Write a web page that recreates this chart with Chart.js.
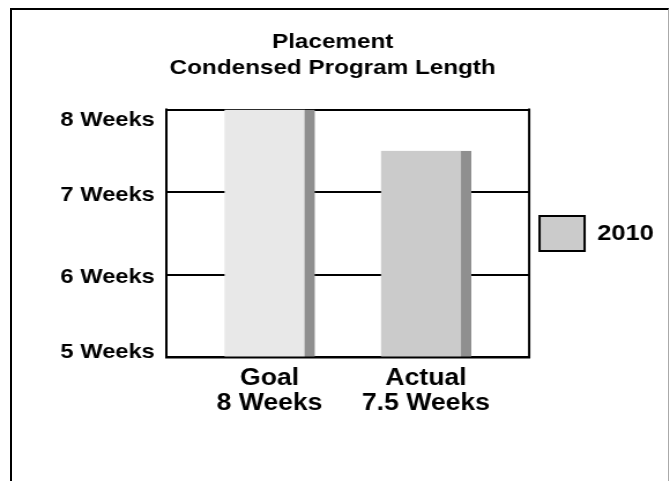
<!DOCTYPE html>
<html>
<head>
<meta charset="utf-8">
<title>Placement - Condensed Program Length</title>
<script src="https://cdn.jsdelivr.net/npm/chart.js@4.4.1/dist/chart.umd.min.js"></script>
<style>
  html, body { margin: 0; padding: 0; background: #fff; }
  body { width: 670px; height: 481px; overflow: hidden; position: relative; }
  /* page frame, open at the bottom */
  .frame {
    position: absolute; left: 10px; top: 8px; width: 656px; height: 600px;
    border-left: 2px solid #000; border-top: 2px solid #000; border-right: 1px solid #aaa;
  }
  /* the chart is laid out narrow and widened, like the original slide art */
  .stretch {
    position: absolute; left: 0; top: 0; width: 580px; height: 481px;
    transform: scaleX(1.1552); transform-origin: 0 0;
  }
  .stretch canvas { display: block; }
</style>
</head>
<body>
<div class="frame"></div>
<div class="stretch"><canvas id="lengthChart" width="580" height="481"></canvas></div>
<script>
const categories = ['Goal', 'Actual'];
const categoryNotes = ['8 Weeks', '7.5 Weeks'];
const seriesName = '2010';
const weeks2010 = [8, 7.5];
const yTicks = [5, 6, 7, 8];
const yTickLabels = ['5 Weeks', '6 Weeks', '7 Weeks', '8 Weeks'];

Chart.defaults.font.family = "'Liberation Sans', Arial, sans-serif";
Chart.defaults.color = '#000';

// left, bottom and right edges of the plot go over the bars
const plotFrame = {
    id: 'plotFrame',
    afterDatasetsDraw(chart) {
        const { ctx, chartArea: a } = chart;
        ctx.save();
        ctx.strokeStyle = '#000';
        ctx.lineWidth = 2;
        ctx.lineCap = 'square';
        ctx.beginPath();
        ctx.moveTo(a.left, a.top);
        ctx.lineTo(a.left, a.bottom);
        ctx.lineTo(a.right, a.bottom);
        ctx.lineTo(a.right, a.top);
        ctx.stroke();
        ctx.restore();
    }
};

// end labels sit a little inside the plot, like the original axis
function yLabel(v) {
    const text = yTickLabels[yTicks.indexOf(v)];
    if (v === yTicks[yTicks.length - 1]) return ['', text];
    if (v === yTicks[0]) return [text, ''];
    return text;
}

const ctx = document.getElementById('lengthChart').getContext('2d');
const lengthChart = new Chart(ctx, {
    type: 'bar',
    data: {
        datasets: [{
            label: seriesName,
            data: weeks2010.map((w, i) => ({ x: i, y: w })),
            backgroundColor: ['#e8e8e8', '#cbcbcb'],
            borderColor: '#8f8f8f',
            borderWidth: { top: 0, right: 9, bottom: 0, left: 0 },
            borderSkipped: false,
            barThickness: 78
        }]
    },
    options: {
        responsive: false,
        animation: false,
        layout: {
            padding: { left: 0, right: 4, top: 0, bottom: 56 }
        },
        plugins: {
            title: {
                display: true,
                text: ['Placement', 'Condensed Program Length'],
                font: { size: 21, weight: 'bold', lineHeight: 1.25 },
                color: '#000',
                padding: { top: 29, bottom: 28 }
            },
            legend: {
                position: 'right',
                fullSize: false,
                labels: {
                    boxWidth: 39,
                    boxHeight: 35,
                    padding: 9,
                    font: { size: 22, weight: 'bold' },
                    color: '#000',
                    generateLabels: () => [{
                        text: seriesName,
                        fillStyle: '#cbcbcb',
                        strokeStyle: '#000',
                        lineWidth: 2,
                        hidden: false,
                        datasetIndex: 0
                    }]
                }
            },
            tooltip: { enabled: false }
        },
        scales: {
            x: {
                type: 'linear',
                offset: false,
                min: -0.66,
                max: 1.66,
                afterBuildTicks: (scale) => {
                    scale.ticks = categories.map((c, i) => ({ value: i }));
                },
                ticks: {
                    callback: (v) => [categories[v], categoryNotes[v]],
                    autoSkip: false,
                    maxRotation: 0,
                    padding: 8,
                    color: '#000',
                    font: { size: 23, weight: 'bold', lineHeight: 1.12 }
                },
                grid: { display: false, drawTicks: false },
                border: { display: false }
            },
            y: {
                min: 5,
                max: 8,
                afterBuildTicks: (scale) => {
                    scale.ticks = yTicks.map(v => ({ value: v }));
                },
                afterFit: (scale) => { scale.width = 144; },
                ticks: {
                    callback: yLabel,
                    padding: 10,
                    labelOffset: 3,
                    color: '#000',
                    font: { size: 20.5, weight: 'bold', lineHeight: 0.8 }
                },
                grid: { color: '#000', lineWidth: 2, drawTicks: false },
                border: { display: false }
            }
        }
    },
    plugins: [plotFrame]
});
</script>
</body>
</html>
